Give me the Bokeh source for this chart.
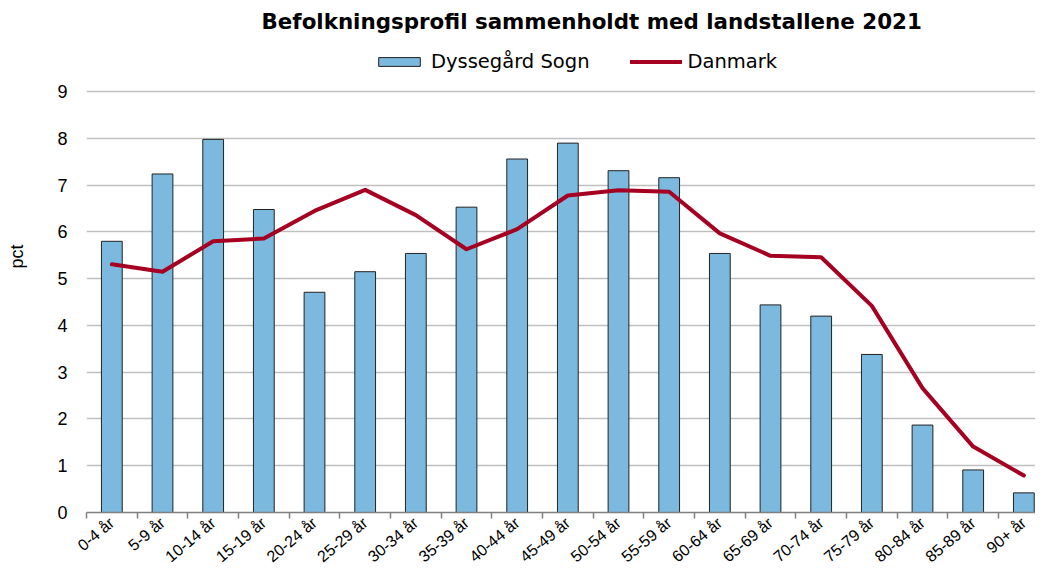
from bokeh.plotting import figure
from bokeh.models import (Range1d, FixedTicker, Legend, LegendItem, Label)
from bokeh.embed import file_html
from bokeh.resources import INLINE

categories = ["0-4 år", "5-9 år", "10-14 år", "15-19 år", "20-24 år", "25-29 år",
              "30-34 år", "35-39 år", "40-44 år", "45-49 år", "50-54 år", "55-59 år",
              "60-64 år", "65-69 år", "70-74 år", "75-79 år", "80-84 år", "85-89 år",
              "90+ år"]
dyssegaard = [5.80, 7.24, 7.98, 6.48, 4.71, 5.15, 5.54, 6.53, 7.56, 7.90, 7.31, 7.16,
              5.54, 4.44, 4.20, 3.38, 1.87, 0.91, 0.42]
danmark = [5.31, 5.15, 5.80, 5.86, 6.45, 6.90, 6.36, 5.63, 6.06, 6.78, 6.89, 6.86,
           5.97, 5.49, 5.46, 4.42, 2.66, 1.41, 0.79]
y_ticks = [0, 1, 2, 3, 4, 5, 6, 7, 8, 9]
title_text = "Befolkningsprofil sammenholdt med landstallene 2021"

centers = [i + 0.5 for i in range(len(categories))]
bounds = list(range(len(categories) + 1))

FONT = "Liberation Sans"
WIDE = "DejaVu Sans"

p = figure(width=1035, height=574, output_backend="svg", toolbar_location=None,
           x_range=Range1d(0, 18.73), y_range=Range1d(0, 10.95),
           min_border_left=86, min_border_right=0, min_border_top=0,
           min_border_bottom=58, title=None)
p.outline_line_color = None
p.background_fill_color = "white"
p.border_fill_color = "white"

bars = p.vbar(x=centers, top=dyssegaard, width=0.41, bottom=0,
              fill_color="#7CB9DE", line_color="#222222", line_width=1)
ln = p.line(x=centers, y=danmark, line_color="#A50021", line_width=4,
            line_join="round", line_cap="round")

# x axis
xa = p.xaxis[0]
xa.ticker = FixedTicker(ticks=centers, minor_ticks=bounds)
xa.major_label_overrides = {c: lab for c, lab in zip(centers, categories)}
xa.major_tick_line_color = None
xa.major_tick_in = 0
xa.major_tick_out = 0
xa.minor_tick_line_color = "#808080"
xa.minor_tick_line_width = 1.5
xa.minor_tick_in = 0
xa.minor_tick_out = 6
xa.axis_line_color = "#808080"
xa.axis_line_width = 1.5
xa.major_label_orientation = 0.7
xa.major_label_text_font = FONT
xa.major_label_text_font_size = "16px"
xa.major_label_text_color = "black"
xa.major_label_standoff = 2

# y axis
ya = p.yaxis[0]
ya.ticker = FixedTicker(ticks=y_ticks)
ya.axis_line_color = None
ya.major_tick_line_color = None
ya.minor_tick_line_color = None
ya.major_tick_in = 0
ya.major_tick_out = 0
ya.major_label_text_font = FONT
ya.major_label_text_font_size = "18px"
ya.major_label_text_color = "black"
ya.major_label_standoff = 19
ya.axis_label = "pct"
ya.axis_label_text_font = FONT
ya.axis_label_text_font_size = "18px"
ya.axis_label_text_font_style = "normal"
ya.axis_label_text_color = "black"
ya.axis_label_standoff = 27

p.xgrid.grid_line_color = None
p.ygrid.grid_line_color = "#C0C0C0"
p.ygrid.grid_line_width = 1.5
p.ygrid.ticker = FixedTicker(ticks=y_ticks)

legend = Legend(items=[LegendItem(label="Dyssegård Sogn", renderers=[bars]),
                       LegendItem(label="Danmark", renderers=[ln])],
                orientation="horizontal", location=(287, 439),
                glyph_width=52, glyph_height=11, label_standoff=6, spacing=40,
                padding=0, margin=0, border_line_color=None,
                background_fill_alpha=0,
                label_text_font=WIDE, label_text_font_size="19.5px",
                label_text_color="black")
p.add_layout(legend, "center")

title = Label(x=9.97, y=10.51, text=title_text, text_align="center",
              text_baseline="middle", text_font=WIDE, text_font_size="21.4px",
              text_font_style="bold", text_color="black")
p.add_layout(title)

open("out.html", "w").write(file_html(p, INLINE))
